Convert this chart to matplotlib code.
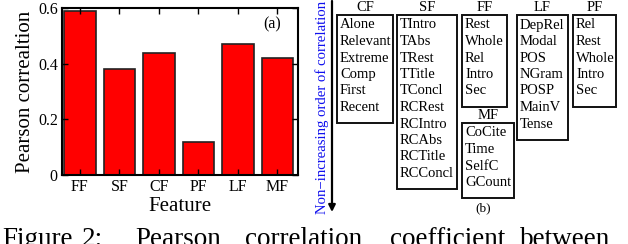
import numpy as np
import matplotlib
matplotlib.use('Agg')
import matplotlib.pyplot as plt
from matplotlib.patches import Rectangle

plt.rcParams['font.family'] = ['Liberation Serif', 'DejaVu Serif']

# panel (a)
features = ['FF', 'SF', 'CF', 'PF', 'LF', 'MF']
pearson = [0.59, 0.38, 0.44, 0.12, 0.47, 0.42]
yticks = [0, 0.2, 0.4, 0.6]
ytick_labels = ['0', '0.2', '0.4', '0.6']

# panel (b): features of each group in non-increasing order of correlation
group_names = ['CF', 'SF', 'FF', 'MF', 'LF', 'PF']
cf_items = ['Alone', 'Relevant', 'Extreme', 'Comp', 'First', 'Recent']
sf_items = ['TIntro', 'TAbs', 'TRest', 'TTitle', 'TConcl',
            'RCRest', 'RCIntro', 'RCAbs', 'RCTitle', 'RCConcl']
ff_items = ['Rest', 'Whole', 'Rel', 'Intro', 'Sec']
mf_items = ['CoCite', 'Time', 'SelfC', 'GCount']
lf_items = ['DepRel', 'Modal', 'POS', 'NGram', 'POSP', 'MainV', 'Tense']
pf_items = ['Rel', 'Rest', 'Whole', 'Intro', 'Sec']
group_items = [cf_items, sf_items, ff_items, mf_items, lf_items, pf_items]

# caption words (justified line, cut off by the image bottom)
caption_words = ['Figure', '2:', 'Pearson', 'correlation', 'coefficient', 'between']

W, H = 628, 244
fig = plt.figure(figsize=(W / 100, H / 100), dpi=100)

# ---- (a) bar chart
ax = fig.add_axes([62 / W, 1 - 175 / H, 236 / W, 167 / H])
x = np.arange(len(features))
ax.bar(x, pearson, width=0.8, color='#ff0000', edgecolor='#222222', linewidth=1.2)
ax.set_xlim(-0.45, 5.52)
ax.set_ylim(0, 0.6)
ax.set_xticks(x)
ax.set_xticklabels(features)
ax.set_yticks(yticks)
ax.set_yticklabels(ytick_labels)
ax.tick_params(direction='in', top=True, right=True, length=4, width=1,
               labelsize=11.5, pad=3)
for s in ax.spines.values():
    s.set_linewidth(1.5)
ax.set_ylabel('Pearson correaltion', fontsize=15, labelpad=2)
ax.set_xlabel('Feature', fontsize=15, labelpad=1)
ax.text(0.93, 0.9, '(a)', transform=ax.transAxes, ha='right', va='center', fontsize=11.5)

# ---- (b) ordered feature lists, drawn in pixel coordinates
ov = fig.add_axes([0, 0, 1, 1])
ov.set_xlim(0, W)
ov.set_ylim(H, 0)
ov.axis('off')

ov.annotate('', xy=(332, 212), xytext=(332, 1),
            arrowprops=dict(arrowstyle='-|>', color='k', lw=1.6,
                            mutation_scale=10, shrinkA=0, shrinkB=0))
ov.text(322, 214, 'Non\u2212increasing order of correlation', rotation=90,
        color='#1010ee', ha='center', va='bottom', fontsize=10.6)

# box layout: left, right, top
box_pos = {'CF': (337, 393, 15), 'SF': (397, 457, 15), 'FF': (462, 507, 15),
           'MF': (462, 514, 123), 'LF': (517, 568, 15), 'PF': (573, 616, 15)}
line_h = 16.5
for name, items in zip(group_names, group_items):
    left, right, top = box_pos[name]
    h = len(items) * line_h + 9
    ov.add_patch(Rectangle((left, top), right - left, h, fill=False,
                           edgecolor='#111111', linewidth=1.4))
    ov.text((left + right) / 2, top - 1, name, ha='center', va='bottom', fontsize=10.5)
    for i, it in enumerate(items):
        ov.text(left + 3, top + 10 + i * line_h, it, ha='left', va='center', fontsize=10.5)
ov.text(483, 208, '(b)', ha='center', va='center', fontsize=9.5)

# caption
word_x = [2, 82, 135, 245, 390, 520]
for wx, word in zip(word_x, caption_words):
    ov.text(wx, 246, word, ha='left', va='baseline', fontsize=19.5)

fig.savefig('out.png', dpi=100)
